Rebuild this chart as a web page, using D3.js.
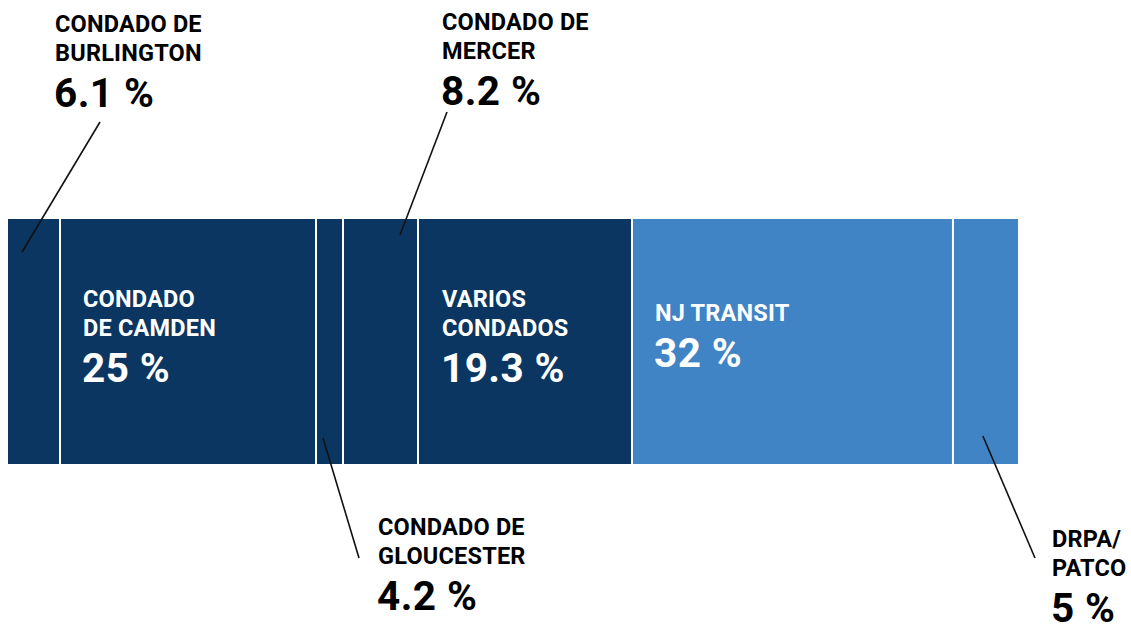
<!DOCTYPE html>
<html>
<head>
<meta charset="utf-8">
<script src="https://cdn.jsdelivr.net/npm/d3@7"></script>
<style>
  body { margin: 0; background: #fff; }
  svg { display: block; font-family: Roboto, "Noto Sans", sans-serif; font-weight: 700; }
</style>
</head>
<body>
<svg width="1131" height="625"></svg>
<script>
// segments of the bar, left to right
var names = [
    ["CONDADO DE", "BURLINGTON"],
    ["CONDADO", "DE CAMDEN"],
    ["CONDADO DE", "GLOUCESTER"],
    ["CONDADO DE", "MERCER"],
    ["VARIOS", "CONDADOS"],
    ["NJ TRANSIT"],
    ["DRPA/", "PATCO"]
];
// percent shown in each label
var percents = [6.1, 25, 4.2, 8.2, 19.3, 32, 5];
// share of the bar each segment takes, as drawn
var barShares = [5.15, 25.35, 2.67, 7.43, 21.19, 31.78, 6.44];
// county money vs transit agencies
var groups = ["county", "county", "county", "county", "county", "agency", "agency"];

var svg = d3.select("svg");

var barTop = 219, barBottom = 464;

var x = d3.scaleLinear()
    .domain([0, d3.sum(barShares)])
    .range([8, 1018]);

var color = d3.scaleOrdinal()
    .domain(["county", "agency"])
    .range(["#0a3661", "#4084c6"]);

// cumulative starts
var starts = [];
barShares.reduce(function(acc, v, i) { starts[i] = acc; return acc + v; }, 0);

var segs = names.map(function(n, i) {
    return {
        name: n,
        pct: percents[i],
        group: groups[i],
        x0: x(starts[i]),
        x1: x(starts[i] + barShares[i])
    };
});

//draw the segments
svg.append("g")
    .selectAll("rect")
    .data(segs)
    .enter().append("rect")
    .attr("x", function(d) { return d.x0; })
    .attr("y", barTop)
    .attr("width", function(d) { return d.x1 - d.x0; })
    .attr("height", barBottom - barTop)
    .attr("fill", function(d) { return color(d.group); });

//white dividers between segments
svg.append("g")
    .selectAll("line")
    .data(segs.slice(1))
    .enter().append("line")
    .attr("x1", function(d) { return d.x0; })
    .attr("x2", function(d) { return d.x0; })
    .attr("y1", barTop)
    .attr("y2", barBottom)
    .attr("stroke", "#fff")
    .attr("stroke-width", 2);

// label placement: inside the bar or outside with a leader line
// tx/ty: text block, first baseline at ty
// fx/iy: inner end of the leader, ox/oy: outer end offset from the text
var layout = [
    { inside: false, tx: 55,  ty: 32,  fx: 0.27, iy: barTop + 33,    ox: 45,  oy: 90 },
    { inside: true,  dx: 23,  ty: 307 },
    { inside: false, tx: 378, ty: 535, fx: 0.26, iy: barBottom - 26, ox: -19, oy: 23 },
    { inside: false, tx: 442, ty: 30,  fx: 0.76, iy: barTop + 16,    ox: 5,   oy: 82 },
    { inside: true,  dx: 24,  ty: 307 },
    { inside: true,  dx: 23,  ty: 321 },
    { inside: false, tx: 1052, ty: 547, fx: 0.46, iy: barBottom - 28, ox: -17, oy: 11 }
];

var labels = svg.append("g");

segs.forEach(function(d, i) {
    var L = layout[i];
    var tx = L.inside ? d.x0 + L.dx : L.tx;
    var fill = L.inside ? "#fff" : "#000";

    var t = labels.append("text")
        .attr("x", tx)
        .attr("y", L.ty)
        .attr("fill", fill)
        .style("font-size", "23.5px")
        .style("letter-spacing", "0.2px");
    d.name.forEach(function(line, k) {
        t.append("tspan")
            .attr("x", tx)
            .attr("y", L.ty + k * 28.5)
            .text(line);
    });

    labels.append("text")
        .attr("x", tx - 1)
        .attr("y", L.ty + (d.name.length - 1) * 28.5 + 46)
        .attr("fill", fill)
        .style("font-size", "40.5px")
        .style("letter-spacing", "0.4px")
        .text(String(d.pct) + " %");

    if (!L.inside) {
        svg.append("line")
            .attr("x1", d.x0 + L.fx * (d.x1 - d.x0))
            .attr("y1", L.iy)
            .attr("x2", tx + L.ox)
            .attr("y2", L.ty + L.oy)
            .attr("stroke", "#111")
            .attr("stroke-width", 1.6);
    }
});
</script>
</body>
</html>
